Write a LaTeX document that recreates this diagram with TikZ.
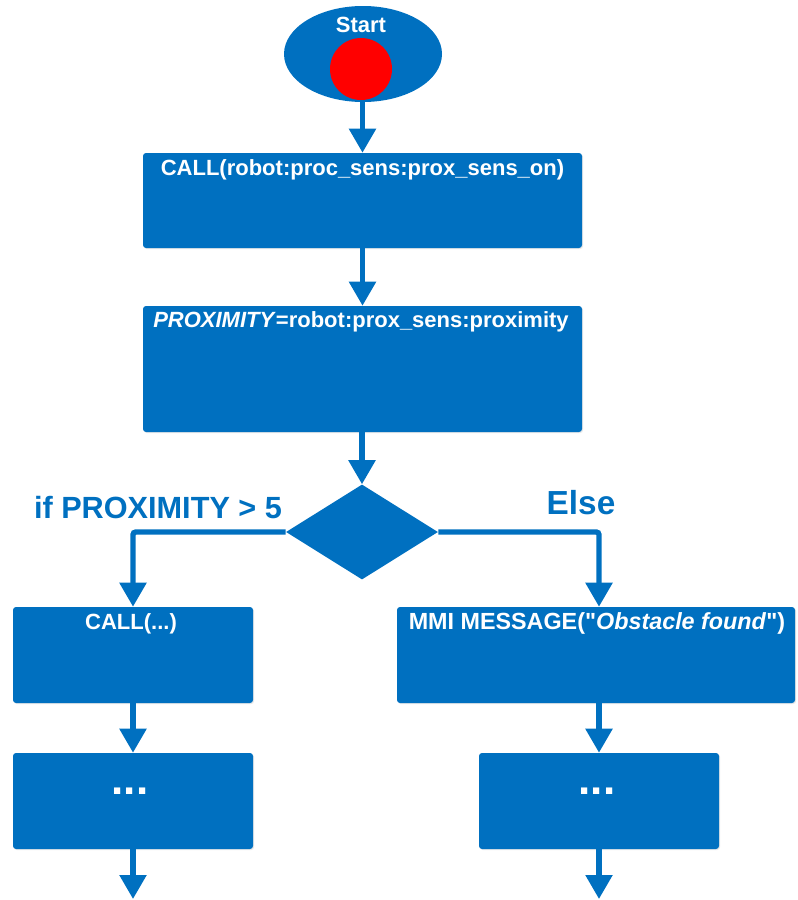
\documentclass[tikz,border=0pt]{standalone}
\usepackage{fontspec}
% keep the ASCII double quote straight
\setmainfont{Liberation Sans}[Ligatures=TeXOff]
\usetikzlibrary{arrows.meta,shapes.geometric,shadows}
\definecolor{flowblue}{HTML}{0070C0}
\definecolor{startred}{HTML}{FF0000}

\begin{document}
\begin{tikzpicture}[x=0.75pt,y=-0.75pt,
  block/.style={fill=flowblue, rounded corners=2.25pt, inner sep=0pt,
    drop shadow={opacity=0.18, shadow xshift=0.8pt, shadow yshift=-0.8pt}},
  boxtext/.style={text=white, font=\fontsize{16.5}{18}\selectfont\bfseries, anchor=base, inner sep=0pt},
  dotstext/.style={text=white, font=\fontsize{33}{34}\selectfont\bfseries, anchor=base, inner sep=0pt},
  flow/.style={draw=flowblue, line width=4pt, -{Triangle[length=18pt,width=19.5pt]}},
  branch/.style={flow, rounded corners=2pt},
  branchlabel/.style={text=flowblue, font=\fontsize{23}{25}\selectfont\bfseries, anchor=base, inner sep=0pt},
]
\useasboundingbox (0,0) rectangle (797,900);

% start terminal
\node[ellipse, fill=flowblue, inner sep=0pt, minimum width=118.5pt, minimum height=72pt] (start) at (363,54) {};

% process blocks
\node[block, minimum width=329.25pt, minimum height=71.25pt] (callon) at (362.5,200.5) {};
\node[block, minimum width=329.25pt, minimum height=94.5pt] (readprox) at (362.5,369) {};

% decision
\node[diamond, fill=flowblue, inner sep=0pt, minimum width=114pt, minimum height=71.25pt] (decide) at (362,532) {};

% branch blocks
\node[block, minimum width=180pt, minimum height=72pt] (callL) at (133,655) {};
\node[block, minimum width=180pt, minimum height=72pt] (moreL) at (133,801) {};
\node[block, minimum width=298.5pt, minimum height=72pt] (msgR) at (596,655) {};
\node[block, minimum width=180pt, minimum height=72pt] (moreR) at (599,801) {};

% loose ends at the bottom
\coordinate (endL) at (133,899);
\coordinate (endR) at (599,899);

% connectors
\draw[flow] (callon.north |- start.south) -- (callon.north);
\draw[flow] (callon.south) -- (readprox.north);
\draw[flow] (readprox.south -| decide.north) -- (decide.north);
\draw[branch] (decide.west) -| (callL.north);
\draw[branch] (decide.east) -| (moreR.north |- msgR.north);
\draw[flow] (callL.south) -- (moreL.north);
\draw[flow] (moreR.north |- msgR.south) -- (moreR.north);
\draw[flow] (moreL.south) -- (endL);
\draw[flow] (moreR.south) -- (endR);

% red start marker on top of the terminal
\node[circle, fill=startred, inner sep=0pt, minimum size=46.5pt] (marker) at (361,69) {};

% texts
\node[boxtext] (starttxt) at (361,32) {Start};
\node[boxtext] (callontxt) at (362.5,175) {CALL(robot:proc\_sens:prox\_sens\_on)};
\node[boxtext] (readproxtxt) at (361,327) {\textit{PROXIMITY}=robot:prox\_sens:proximity};
\node[boxtext] (callLtxt) at (131,629) {CALL(...)};
\node[boxtext, font=\fontsize{17.5}{19}\selectfont\bfseries] (msgRtxt) at (597,629)
  {MMI MESSAGE("\textit{Obstacle found}")};
\node[dotstext] (moreLtxt) at (130,794) {...};
\node[dotstext] (moreRtxt) at (597,794) {...};

\node[branchlabel] (iflbl) at (158,518) {if PROXIMITY > 5};
\node[branchlabel, font=\fontsize{25}{27}\selectfont\bfseries] (elselbl) at (581,514) {Else};
\end{tikzpicture}
\end{document}
